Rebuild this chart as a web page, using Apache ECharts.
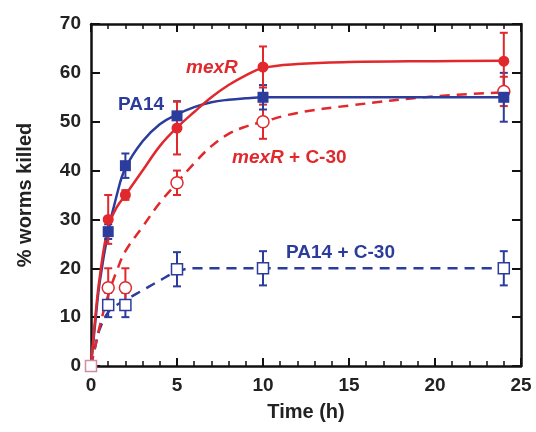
<!DOCTYPE html>
<html>
<head>
<meta charset="utf-8">
<script src="https://cdn.jsdelivr.net/npm/echarts@6/dist/echarts.min.js"></script>
<style>
  html, body { margin: 0; padding: 0; background: #fff; }
  #main { width: 536px; height: 432px; }
</style>
</head>
<body>
<div id="main"></div>
<script>
// measured points
var times = [0, 1, 2, 5, 10, 24];
var pa14 = [0, 27.5, 41, 51.2, 55, 55];
var pa14Err = [0, 1.5, 2.5, 3, 2.5, 5];
var mexR = [0, 30, 35, 48.7, 61.2, 62.4];
var mexRErr = [0, 5, 1, 5.4, 4.2, 5.8];
var mexRC30 = [0, 16, 16, 37.5, 50, 56.2];
var mexRC30Err = [0, 4, 4, 2.5, 3.5, 3];
var pa14C30 = [0, 12.5, 12.5, 19.8, 20, 20];
var pa14C30Err = [0, 2.5, 2.5, 3.5, 3.5, 3.5];

// fitted curves
var curveT = [0, 0.25, 0.5, 1, 1.5, 2, 3, 4, 5, 6, 7, 8, 9, 10, 12, 15, 20, 24];
var pa14Fit = [0, 9, 17, 27.5, 35, 40.5, 46, 49.5, 51.5, 53, 54, 54.5, 54.8, 55, 55, 55, 55, 55];
var mexRFit = [0, 10, 18, 28.5, 32.5, 35, 40, 45, 48.8, 52, 55, 57.5, 59.5, 61, 61.8, 62.2, 62.4, 62.5];
var mexRC30Fit = [0, 4, 8, 14.5, 19.5, 23.5, 28.5, 33.4, 37.5, 41.5, 45, 47.5, 49, 50, 51.8, 53.3, 55.2, 56];
var pa14C30Fit = [0, 4, 7.5, 11, 12.5, 13.5, 15.5, 17.5, 19.3, 20, 20, 20, 20, 20, 20, 20, 20, 20];

var blue = '#2b3c9c';
var red = '#e0282d';
var font = 'Liberation Sans, Arial, sans-serif';

function pairs(xs, ys, from) {
    var out = [];
    for (var i = from || 0; i < xs.length; i++) {
        out.push([xs[i], ys[i]]);
    }
    return out;
}

function errData(ys, errs) {
    var out = [];
    for (var i = 1; i < times.length; i++) {
        out.push([times[i], ys[i] - errs[i], ys[i] + errs[i]]);
    }
    return out;
}

function errorSeries(ys, errs, color) {
    return {
        type: 'custom',
        data: errData(ys, errs),
        z: 3,
        silent: true,
        renderItem: function (params, api) {
            var lo = api.coord([api.value(0), api.value(1)]);
            var hi = api.coord([api.value(0), api.value(2)]);
            var w = 4;
            var st = {stroke: color, lineWidth: 2};
            return {
                type: 'group',
                children: [
                    {type: 'line', shape: {x1: lo[0], y1: lo[1], x2: hi[0], y2: hi[1]}, style: st},
                    {type: 'line', shape: {x1: lo[0] - w, y1: lo[1], x2: lo[0] + w, y2: lo[1]}, style: st},
                    {type: 'line', shape: {x1: hi[0] - w, y1: hi[1], x2: hi[0] + w, y2: hi[1]}, style: st}
                ]
            };
        }
    };
}

function curveSeries(ys, color, dashed) {
    return {
        type: 'line',
        data: pairs(curveT, ys),
        smooth: 0.4,
        showSymbol: false,
        silent: true,
        z: 2,
        lineStyle: {color: color, width: 2.5, type: dashed ? [10, 7] : 'solid'}
    };
}

function pointSeries(ys, color, symbol, open, size) {
    return {
        type: 'scatter',
        data: pairs(times, ys, 1),
        symbol: symbol,
        symbolSize: size,
        z: 4,
        itemStyle: {
            color: open ? '#fff' : color,
            borderColor: color,
            borderWidth: open ? 1.5 : 0,
            opacity: 1
        }
    };
}

var axisLine = {show: true, onZero: false, lineStyle: {color: '#111', width: 2.5}};
var tickLabel = {color: '#222', fontSize: 19, fontWeight: 'bold', fontFamily: font};

var myChart = echarts.init(document.getElementById('main'), null, {renderer: 'canvas'});
var option = {
    animation: false,
    backgroundColor: '#fff',
    grid: {left: 91, right: 15, top: 24, bottom: 66},
    xAxis: [
        {
            type: 'value', position: 'bottom', min: 0, max: 25, interval: 5,
            axisLine: axisLine,
            axisTick: {show: true, inside: true, length: 8, lineStyle: {color: '#111', width: 2}},
            minorTick: {show: true, splitNumber: 5, length: 5, lineStyle: {color: '#111', width: 1.5}},
            splitLine: {show: false},
            axisLabel: Object.assign({margin: 10}, tickLabel),
            name: 'Time (h)', nameLocation: 'middle', nameGap: 36,
            nameTextStyle: {color: '#222', fontSize: 20, fontWeight: 'bold', fontFamily: font}
        },
        {
            type: 'value', position: 'top', min: 0, max: 25, interval: 5,
            axisLine: axisLine,
            axisTick: {show: true, inside: true, length: 8, lineStyle: {color: '#111', width: 2}},
            minorTick: {show: true, splitNumber: 5, length: 5, lineStyle: {color: '#111', width: 1.5}},
            splitLine: {show: false},
            axisLabel: {show: false}
        }
    ],
    yAxis: [
        {
            type: 'value', position: 'left', min: 0, max: 70, interval: 10,
            axisLine: axisLine,
            axisTick: {show: true, inside: true, length: 9, lineStyle: {color: '#111', width: 2}},
            splitLine: {show: false},
            axisLabel: Object.assign({margin: 10}, tickLabel),
            name: '% worms killed', nameLocation: 'middle', nameGap: 56, nameRotate: 90,
            nameTextStyle: {color: '#222', fontSize: 20, fontWeight: 'bold', fontFamily: font}
        },
        {
            type: 'value', position: 'right', min: 0, max: 70, interval: 10,
            axisLine: axisLine,
            axisTick: {show: true, inside: true, length: 9, lineStyle: {color: '#111', width: 2}},
            splitLine: {show: false},
            axisLabel: {show: false}
        }
    ],
    series: [
        curveSeries(pa14C30Fit, blue, true),
        curveSeries(mexRC30Fit, red, true),
        curveSeries(pa14Fit, blue, false),
        curveSeries(mexRFit, red, false),
        errorSeries(pa14C30, pa14C30Err, blue),
        errorSeries(mexRC30, mexRC30Err, red),
        errorSeries(pa14, pa14Err, blue),
        errorSeries(mexR, mexRErr, red),
        pointSeries(pa14C30, blue, 'rect', true, 11),
        pointSeries(mexRC30, red, 'circle', true, 12),
        pointSeries(pa14, blue, 'rect', false, 11),
        pointSeries(mexR, red, 'circle', false, 11),
        {
            // shared start point at the origin
            type: 'scatter',
            data: [[times[0], pa14C30[0]]],
            symbol: 'rect',
            symbolSize: 11,
            z: 5,
            itemStyle: {color: '#fff', borderColor: '#d48aa6', borderWidth: 1.5, opacity: 1}
        }
    ],
    graphic: [
        {type: 'text', left: 186, top: 58, style: {text: 'mexR', fill: red, font: 'italic bold 19px ' + font}},
        {type: 'text', left: 118, top: 95, style: {text: 'PA14', fill: blue, font: 'bold 19px ' + font}},
        {type: 'text', left: 232, top: 148, style: {
            text: '{i|mexR} + C-30', fill: red, font: 'bold 19px ' + font,
            rich: {i: {fontStyle: 'italic', fontWeight: 'bold', fontSize: 19, fontFamily: font, fill: red}}
        }},
        {type: 'text', left: 286, top: 243, style: {text: 'PA14 + C-30', fill: blue, font: 'bold 19px ' + font}}
    ]
};
if (option && typeof option === "object") {
    myChart.setOption(option, true);
}
</script>
</body>
</html>
